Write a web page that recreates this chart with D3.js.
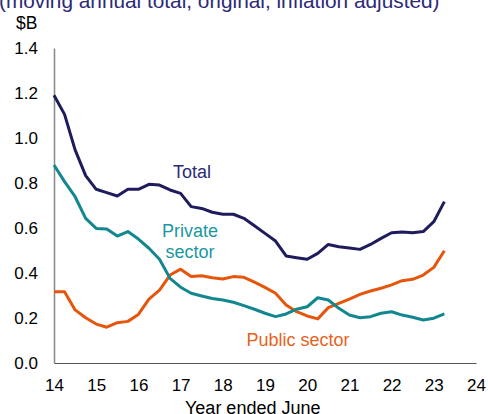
<!DOCTYPE html>
<html>
<head>
<meta charset="utf-8">
<script src="https://cdn.jsdelivr.net/npm/d3@7"></script>
<style>
  body { margin: 0; background: #fff; }
  svg { display: block; font-family: "Liberation Sans", Arial, sans-serif; }
</style>
</head>
<body>
<svg id="chart" width="488" height="414"></svg>
<script>
// quarterly, year ended June 2014 to Sep 2023
const quarters = d3.range(38).map(i => 14 + i * 0.25);
const total = [1.19, 1.105, 0.947, 0.833, 0.772, 0.757, 0.742, 0.772, 0.772, 0.794, 0.791, 0.769, 0.754,
  0.695, 0.687, 0.67, 0.661, 0.661, 0.643, 0.61, 0.576, 0.542, 0.476, 0.468, 0.461, 0.487,
  0.527, 0.517, 0.511, 0.505, 0.527, 0.554, 0.579, 0.582, 0.579, 0.584, 0.628, 0.717];
const privateSector = [0.88, 0.806, 0.739, 0.643, 0.598, 0.596, 0.564, 0.584, 0.551, 0.51, 0.461, 0.376, 0.337,
  0.31, 0.298, 0.287, 0.28, 0.27, 0.255, 0.239, 0.221, 0.206, 0.218, 0.239, 0.25, 0.29,
  0.28, 0.243, 0.213, 0.201, 0.206, 0.221, 0.228, 0.213, 0.203, 0.191, 0.199, 0.218];
const publicSector = [0.317, 0.317, 0.236, 0.201, 0.173, 0.159, 0.179, 0.185, 0.216, 0.284, 0.324, 0.391, 0.417,
  0.384, 0.388, 0.379, 0.373, 0.384, 0.381, 0.359, 0.336, 0.31, 0.258, 0.228, 0.209, 0.196,
  0.246, 0.265, 0.284, 0.305, 0.32, 0.332, 0.347, 0.366, 0.372, 0.391, 0.425, 0.499];
const xTicks = [14, 15, 16, 17, 18, 19, 20, 21, 22, 23, 24];
const yTicks = [0, 0.2, 0.4, 0.6, 0.8, 1.0, 1.2, 1.4];

const svg = d3.select("#chart");

const x = d3.scaleLinear().domain([14, 24]).range([54, 476]);
const y = d3.scaleLinear().domain([0, 1.4]).range([363, 48]);

// title (cut off at top in the original)
svg.append("text")
    .attr("x", -1)
    .attr("y", 8)
    .attr("font-size", "20.8px")
    .attr("fill", "#2b2a78")
    .text("(moving annual total, original, inflation adjusted)");

svg.append("text")
    .attr("x", 16)
    .attr("y", 29)
    .attr("font-size", "17.5px")
    .attr("fill", "#000")
    .text("$B");

// y axis
const yAxis = svg.append("g")
    .attr("transform", `translate(${x(14)},0)`)
    .call(d3.axisLeft(y).tickValues(yTicks).tickFormat(d3.format(".1f")).tickSize(0).tickPadding(16));
yAxis.select(".domain").attr("stroke", "#888").attr("stroke-width", 1.5);
yAxis.selectAll("text").attr("font-size", "17px").attr("fill", "#000").attr("font-family", null);

// x axis
const xAxis = svg.append("g")
    .attr("transform", `translate(0,${y(0)})`)
    .call(d3.axisBottom(x).tickValues(xTicks).tickFormat(d3.format("d")).tickSize(0).tickPadding(16));
xAxis.select(".domain").attr("stroke", "#555").attr("stroke-width", 1);
xAxis.selectAll("text").attr("font-size", "17px").attr("fill", "#000").attr("font-family", null);

svg.append("text")
    .attr("x", 185)
    .attr("y", 414)
    .attr("font-size", "18px")
    .attr("fill", "#000")
    .text("Year ended June");

const line = d3.line()
    .x((d, i) => x(quarters[i]))
    .y(d => y(d));

const series = [
    { values: publicSector, color: "#e5560c" },
    { values: privateSector, color: "#12878f" },
    { values: total, color: "#1e1c5c" },
];

svg.selectAll("path.series")
    .data(series)
    .enter()
    .append("path")
    .attr("class", "series")
    .attr("d", d => line(d.values))
    .attr("fill", "none")
    .attr("stroke", d => d.color)
    .attr("stroke-width", 3)
    .attr("stroke-linejoin", "round");

// series labels
const labels = [
    { text: ["Total"], x: 192, y: 178, color: "#2b2a78" },
    { text: ["Private", "sector"], x: 190, y: 237, color: "#1a979f" },
    { text: ["Public sector"], x: 298, y: 346, color: "#e8621c" },
];

labels.forEach(l => {
    const t = svg.append("text")
        .attr("x", l.x)
        .attr("y", l.y)
        .attr("text-anchor", "middle")
        .attr("font-size", "18px")
        .attr("fill", l.color);
    l.text.forEach((s, i) => {
        t.append("tspan").attr("x", l.x).attr("dy", i === 0 ? 0 : "1.15em").text(s);
    });
});
</script>
</body>
</html>
